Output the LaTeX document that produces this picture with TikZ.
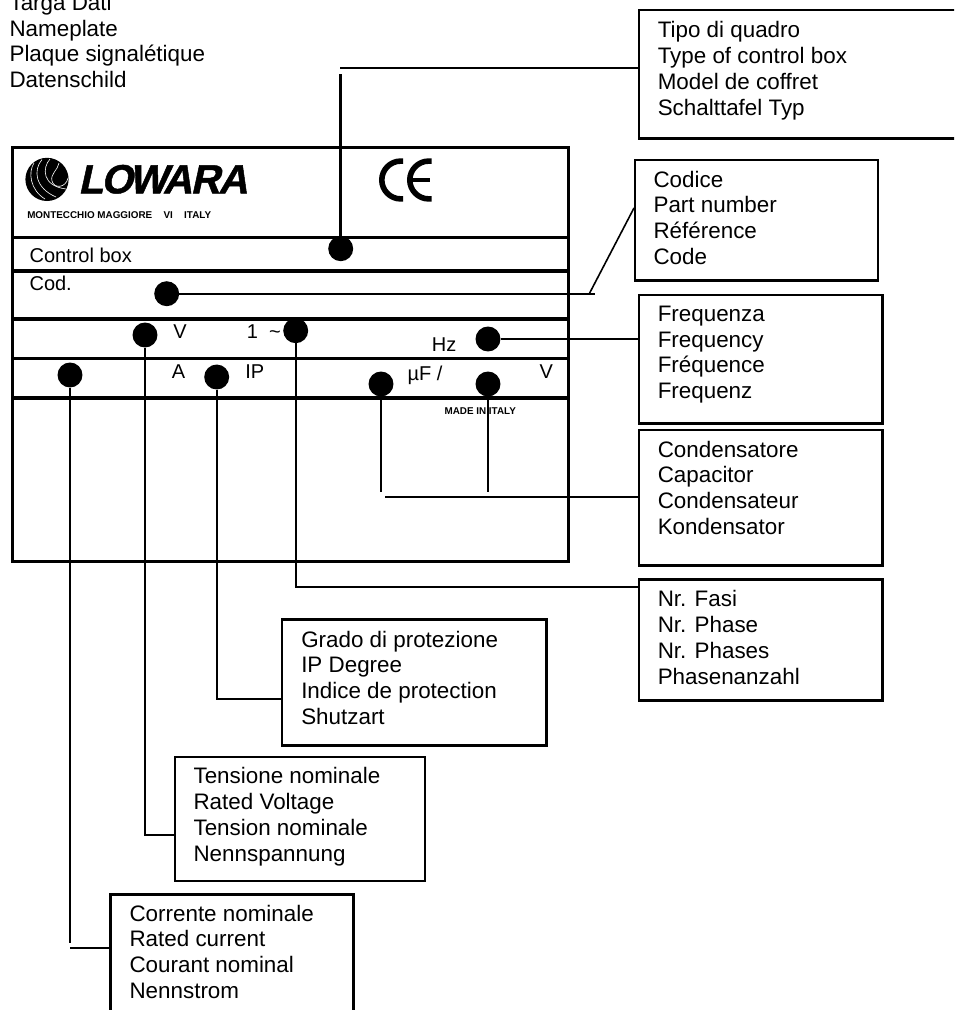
\documentclass[tikz,border=0pt]{standalone}
\usepackage{fontspec}
\setmainfont{Liberation Sans}
\newfontfamily\logofont{Liberation Sans}[UprightFont={* Bold},FakeSlant=0.22,FakeBold=1.2]
\tikzset{
  x=0.75pt,y=-0.75pt,
  plateframe/.style={draw=black,line width=2.4pt,inner sep=0pt,anchor=north west},
  divider/.style={draw=black,line width=2.3pt},
  calloutbox/.style={draw=black,line width=1.7pt,inner sep=0pt,anchor=north west},
  wire/.style={draw=black,line width=1.7pt},
  pin/.style={circle,fill=black,inner sep=0pt,minimum size=18.7pt},
  boxtext/.style={font=\fontsize{16.8}{19.3}\selectfont,align=left,inner sep=0pt,anchor=north west,execute at begin node={\rule{0pt}{14pt}}},
  platetext/.style={font=\fontsize{15}{18}\selectfont,inner sep=0pt,anchor=base west},
  tinytext/.style={font=\fontsize{7.4}{9}\selectfont\bfseries,inner sep=0pt,anchor=base west},
  cemark/.style={draw=black,line width=4.2pt},
  logoline/.style={draw=white,line width=0.45pt}
}
\newcommand{\calloutat}[5]{\node[calloutbox,minimum width={(#4-#2)*0.75pt},minimum height={(#5-#3)*0.75pt}] (#1) at (#2,#3) {};}
\newcommand{\blocktext}[4]{\node[boxtext] (#1) at (#2,#3-18.667) {#4};}
\begin{document}
\begin{tikzpicture}
\path[use as bounding box] (0,0) rectangle (954,1010);
\clip (0,0) rectangle (954,1010);
\fill[white] (0,0) rectangle (954,1010);

% nameplate
\node[plateframe,minimum width={556*0.75pt},minimum height={414*0.75pt}] (plate) at (11,146) {};
\foreach \yy/\nm in {237.7/a,271/b,319/c,358.7/d,398/e}{
  \draw[divider] (plate.west |- 0,\yy) -- (plate.east |- 0,\yy);
}

% logo
\node[pin,minimum size={43.2*0.75pt}] (globe) at (47,179.4) {};
\draw[logoline] (34,163) .. controls (28,172) and (30,190) .. (45,199);
\draw[logoline] (42,159.5) .. controls (33,170) and (35,188) .. (56,197);
\draw[logoline] (50,159) .. controls (42,168) and (42,186) .. (66,189);
\draw[logoline] (59,163) .. controls (58,170) and (50,174) .. (52,181) .. controls (54,189) and (66,188) .. (68,178);
\node[inner sep=0pt,anchor=base west,font=\logofont\fontsize{30.5}{34}\selectfont,text=black] (logo) at (78,193.3) {L\kern-1.6ptO\kern-2.8ptW\kern-3.4ptA\kern-1.2ptR\kern-1.2ptA};
\node[tinytext] (addr) at (27,218) {MONTECCHIO MAGGIORE\hspace{8.5pt}VI\hspace{8.5pt}ITALY};

% CE mark
\draw[cemark] (403,161.1) -- (400.7,161.1) .. controls (390.3,161.1) and (381.8,169.6) .. (381.8,180) .. controls (381.8,190.4) and (390.3,198.9) .. (400.7,198.9) -- (403,198.9);
\draw[cemark] (431.7,161.1) -- (428.7,161.1) .. controls (418.3,161.1) and (409.8,169.6) .. (409.8,180) .. controls (409.8,190.4) and (418.3,198.9) .. (428.7,198.9) -- (431.7,198.9);
\draw[line width=3.2pt] (410,180) -- (429.5,180);

% plate texts
\node[platetext] (tControl) at (29.3,262) {Control box};
\node[platetext] (tCod) at (29.3,290) {Cod.};
\node[platetext] (tV) at (173,338) {V};
\node[platetext] (tPhase) at (246.7,338) {1\ \ \textasciitilde};
\node[platetext] (tA) at (171.7,378) {A};
\node[platetext] (tIP) at (245,378) {IP};
\node[platetext] (tHz) at (431.7,351.7) {Hz};
\node[platetext] (tuF) at (407.3,380) {µF /};
\node[platetext] (tVb) at (539.3,378) {V};
\node[tinytext] (tMade) at (444.3,414.7) {MADE IN ITALY};

% pins
\node[pin] (pType) at (340.7,248.7) {};
\node[pin] (pCod) at (166.7,293.7) {};
\node[pin] (pV) at (145,335) {};
\node[pin] (pPhase) at (295.7,330.7) {};
\node[pin] (pA) at (70,375) {};
\node[pin] (pIP) at (216.7,377) {};
\node[pin] (puF) at (381,384) {};
\node[pin] (pHz) at (488,339) {};
\node[pin] (pVb) at (488,384) {};

% callout boxes
\calloutat{bType}{637.7}{9}{1000}{137.3}
\calloutat{bCode}{634}{158.7}{877}{279.3}
\calloutat{bFreq}{637.7}{294}{881.3}{422.3}
\calloutat{bCap}{637.7}{429}{881.3}{564.3}
\calloutat{bPhase}{637.7}{578.3}{881.3}{699.3}
\calloutat{bIP}{281}{618.3}{545.3}{744.3}
\calloutat{bVolt}{174}{755.7}{423.7}{880}
\calloutat{bCurr}{109.3}{893.3}{352.3}{1060}

% callout texts
\blocktext{xType}{657.5}{40}{Tipo di quadro\\Type of control box\\Model de coffret\\Schalttafel Typ}
\blocktext{xCode}{653.3}{189.3}{Codice\\Part number\\Référence\\Code}
\blocktext{xFreq}{657.5}{324.5}{Frequenza\\Frequency\\Fréquence\\Frequenz}
\blocktext{xCap}{657.5}{459.3}{Condensatore\\Capacitor\\Condensateur\\Kondensator}
\blocktext{xPhase}{657.5}{609}{Nr. Fasi\\Nr. Phase\\Nr. Phases\\Phasenanzahl}
\blocktext{xIP}{301}{649.3}{Grado di protezione\\IP Degree\\Indice de protection\\Shutzart}
\blocktext{xVolt}{193.3}{786}{Tensione nominale\\Rated Voltage\\Tension nominale\\Nennspannung}
\blocktext{xCurr}{129.3}{923.3}{Corrente nominale\\Rated current\\Courant nominal\\Nennstrom}
\blocktext{xPlate}{9.3}{12.7}{Targa Dati\\Nameplate\\Plaque signalétique\\Datenschild}

% connector end points
\coordinate (typeTop) at (340.7,74);
\coordinate (typeL) at (340,67.7);
\coordinate (typeR) at (bType.west |- 0,67.7);
\coordinate (codeEnd) at (595,293.7);
\coordinate (codeKnee) at (589.3,293.7);
\coordinate (codeBox) at (bCode.west |- 0,208);
\coordinate (capL) at (385,496.7);
\coordinate (capR) at (bCap.west |- 0,496.7);
\coordinate (capA) at (381,491.7);
\coordinate (capB) at (488,491.7);
\coordinate (phaseR) at (bPhase.west |- 0,586.7);
\coordinate (ipR) at (bIP.west |- 0,699);
\coordinate (voltR) at (bVolt.west |- 0,835);
\coordinate (currA) at (70,943.3);
\coordinate (currL) at (70,947.7);
\coordinate (currR) at (bCurr.west |- 0,947.7);

% connectors
\draw[wire] (typeL) -- (typeR);
\draw[wire,line width=2pt] (pType) -- (typeTop);
\draw[wire] (pCod) -- (codeEnd);
\draw[wire,line width=1.2pt] (codeKnee) -- (codeBox);
\draw[wire] (pHz) -- (bFreq.west |- pHz);
\draw[wire] (puF) -- (capA);
\draw[wire] (pVb) -- (capB);
\draw[wire] (capL) -- (capR);
\draw[wire] (pPhase) |- (phaseR);
\draw[wire] (pIP) |- (ipR);
\draw[wire] (pV) |- (voltR);
\draw[wire] (pA) -- (currA);
\draw[wire] (currL) -- (currR);
\end{tikzpicture}
\end{document}
